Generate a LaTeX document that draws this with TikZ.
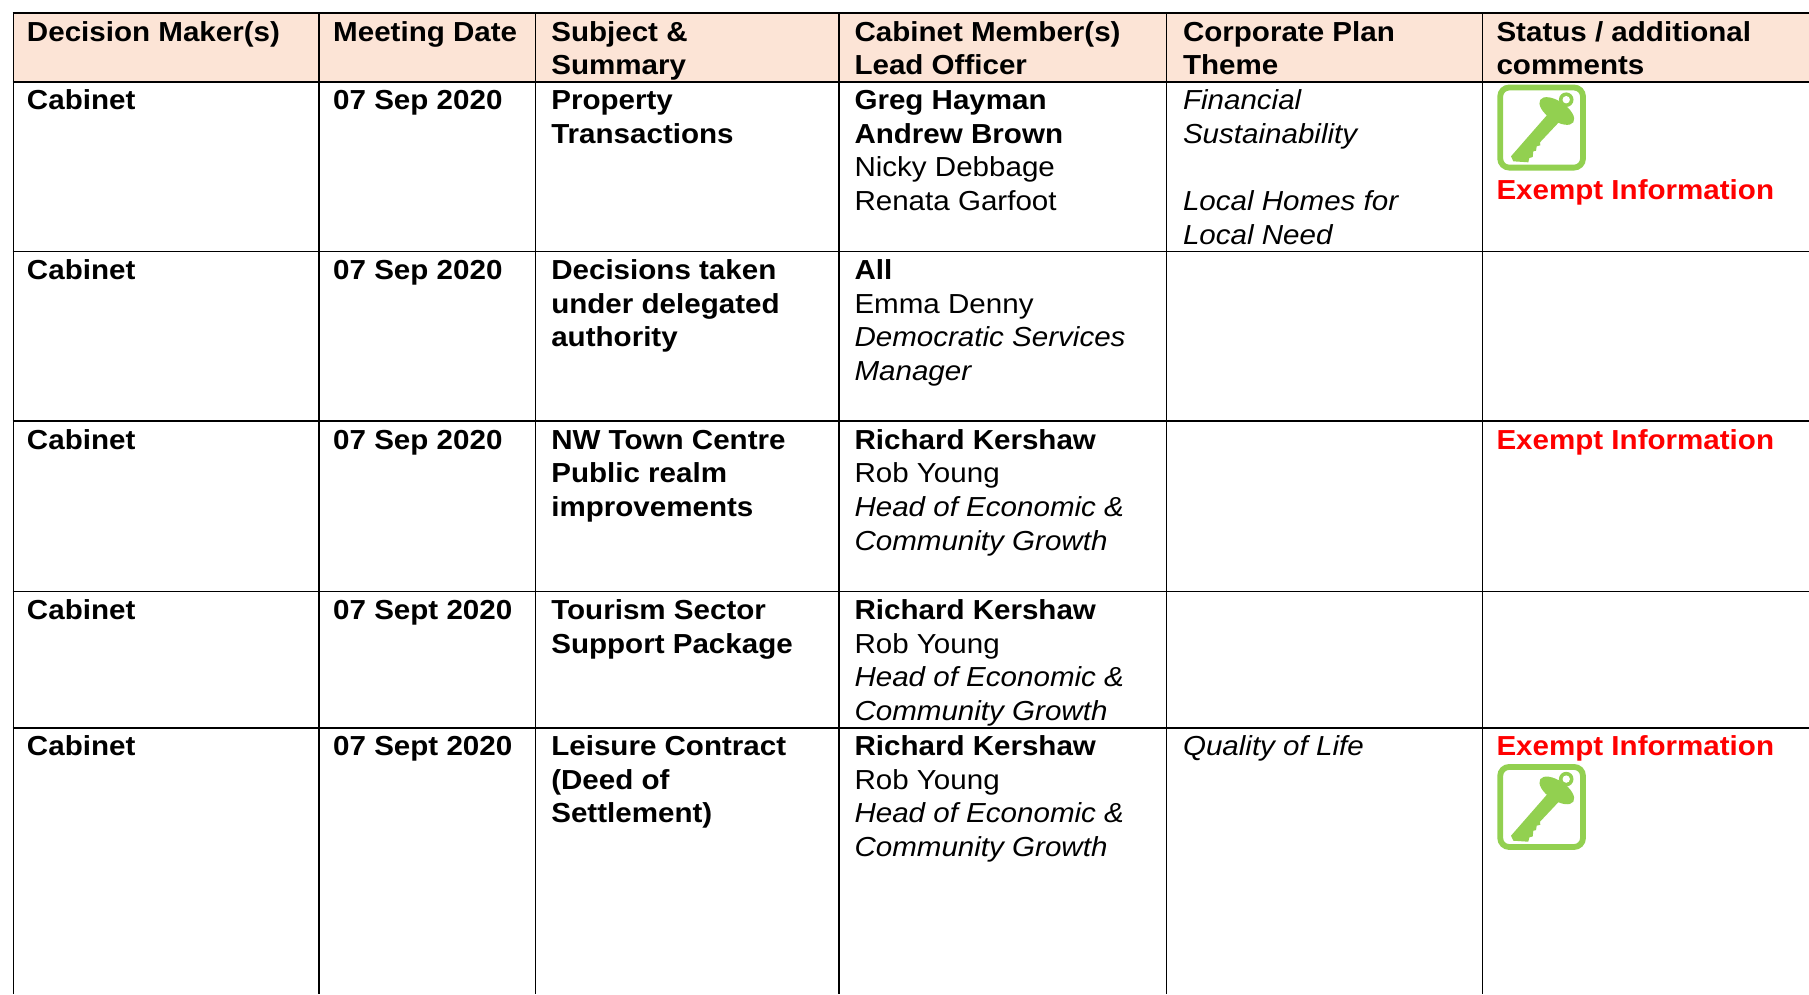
\documentclass[tikz,border=0pt]{standalone}
\usepackage{fontspec}
\setmainfont{Liberation Sans}[FakeStretch=1.075]
\definecolor{hdrfill}{RGB}{252,228,214}
\definecolor{keygreen}{RGB}{146,208,80}
\definecolor{exred}{RGB}{255,0,0}
\tikzset{
  cell/.style={anchor=north west, inner sep=0pt, outer sep=0pt, align=left},
  cellrm/.style={cell, font=\fontsize{27.5}{33.6}\selectfont},
  cellbf/.style={cell, font=\fontsize{27.5}{33.6}\selectfont\bfseries},
  cellit/.style={cell, font=\fontsize{27.5}{33.6}\selectfont\itshape},
  cellred/.style={cell, text=exred, font=\fontsize{27.5}{33.6}\selectfont\bfseries},
  hrule/.style={line width=1.7pt, black},
  vrule/.style={line width=1.3pt, black},
  keyicon/.pic={
    \draw[keygreen, line width=5.8pt, rounded corners=9pt] (3.5,4.2) rectangle (86.3,84.3);
    \begin{pgfscope}
      \pgfsetfillcolor{keygreen}
      \pgfpathellipse{\pgfpointxy{60.1}{27.7}}{\pgfpointxy{16.5}{11.3}}{\pgfpointxy{-5.5}{8.0}}
      \pgfusepath{fill}
    \end{pgfscope}
    \fill[keygreen] (51.9,30) -- (14.3,73) -- (16.6,78) -- (31.6,79) -- (32.6,74.7) -- (36,73.7)
      -- (36.6,68) -- (39.3,67.4) -- (40,63) -- (43.6,62) -- (43.3,59) -- (63.6,37.4) -- cycle;
    \fill[keygreen] (69.5,16.4) circle [radius=7.3];
    \fill[white] (69.5,16.4) circle [radius=3.7];
  }
}
\begin{document}
\begin{tikzpicture}[x=1pt,y=-1pt]
\useasboundingbox[fill=white] (0,0) rectangle (1809,994);
% header band
\fill[hdrfill] (13.3,13.3) rectangle (1809,81.7);
% horizontal rules
\foreach \yy in {13.3,81.7,251.6,421.2,591.6,727.7}
  \draw[hrule] (12.6,\yy) -- (1809,\yy);
% vertical rules
\foreach \xx in {13.3,319,535.6,839,1166.7,1482.7}
  \draw[vrule] (\xx,13.3) -- (\xx,994);

% header
\node[cellbf] (h1) at (27,17.8) {\strut Decision Maker(s)};
\node[cellbf] (h2) at (333.2,17.8) {\strut Meeting Date};
\node[cellbf] (h3) at (551.3,17.8) {\strut Subject \&\\Summary};
\node[cellbf] (h4) at (854.5,17.8) {\strut Cabinet Member(s)\\Lead Officer};
\node[cellbf] (h5) at (1183,17.8) {\strut Corporate Plan\\Theme};
\node[cellbf] (h6) at (1496.5,17.8) {\strut Status / additional\\comments};

% row 1
\node[cellbf] (r1c1) at (27,86.2) {\strut Cabinet};
\node[cellbf] (r1c2) at (333.2,86.2) {\strut 07 Sep 2020};
\node[cellbf] (r1c3) at (551.3,86.2) {\strut Property\\Transactions};
\node[cellrm] (r1c4) at (854.5,86.2) {\strut\textbf{Greg Hayman}\\\textbf{Andrew Brown}\\Nicky Debbage\\Renata Garfoot};
\node[cellit] (r1c5a) at (1183,86.2) {\strut Financial\\Sustainability};
\node[cellit] (r1c5b) at (1183,187) {\strut Local Homes for\\Local Need};
\pic (keya) at (1496.7,83.3) {keyicon};
\node[cellred] (r1c6) at (1496.5,175.8) {\strut Exempt Information};

% row 2
\node[cellbf] (r2c1) at (27,256.1) {\strut Cabinet};
\node[cellbf] (r2c2) at (333.2,256.1) {\strut 07 Sep 2020};
\node[cellbf] (r2c3) at (551.3,256.1) {\strut Decisions taken\\under delegated\\authority};
\node[cellrm] (r2c4) at (854.5,256.1) {\strut\textbf{All}\\Emma Denny\\\textit{Democratic Services}\\\textit{Manager}};

% row 3
\node[cellbf] (r3c1) at (27,425.7) {\strut Cabinet};
\node[cellbf] (r3c2) at (333.2,425.7) {\strut 07 Sep 2020};
\node[cellbf] (r3c3) at (551.3,425.7) {\strut NW Town Centre\\Public realm\\improvements};
\node[cellrm] (r3c4) at (854.5,425.7) {\strut\textbf{Richard Kershaw}\\Rob Young\\\textit{Head of Economic \&}\\\textit{Community Growth}};
\node[cellred] (r3c6) at (1496.5,425.7) {\strut Exempt Information};

% row 4
\node[cellbf] (r4c1) at (27,596.1) {\strut Cabinet};
\node[cellbf] (r4c2) at (333.2,596.1) {\strut 07 Sept 2020};
\node[cellbf] (r4c3) at (551.3,596.1) {\strut Tourism Sector\\Support Package};
\node[cellrm] (r4c4) at (854.5,596.1) {\strut\textbf{Richard Kershaw}\\Rob Young\\\textit{Head of Economic \&}\\\textit{Community Growth}};

% row 5
\node[cellbf] (r5c1) at (27,732.2) {\strut Cabinet};
\node[cellbf] (r5c2) at (333.2,732.2) {\strut 07 Sept 2020};
\node[cellbf] (r5c3) at (551.3,732.2) {\strut Leisure Contract\\(Deed of\\Settlement)};
\node[cellrm] (r5c4) at (854.5,732.2) {\strut\textbf{Richard Kershaw}\\Rob Young\\\textit{Head of Economic \&}\\\textit{Community Growth}};
\node[cellit] (r5c5) at (1183,732.2) {\strut Quality of Life};
\node[cellred] (r5c6) at (1496.5,732.2) {\strut Exempt Information};
\pic (keyb) at (1496.7,762.7) {keyicon};
\end{tikzpicture}
\end{document}
